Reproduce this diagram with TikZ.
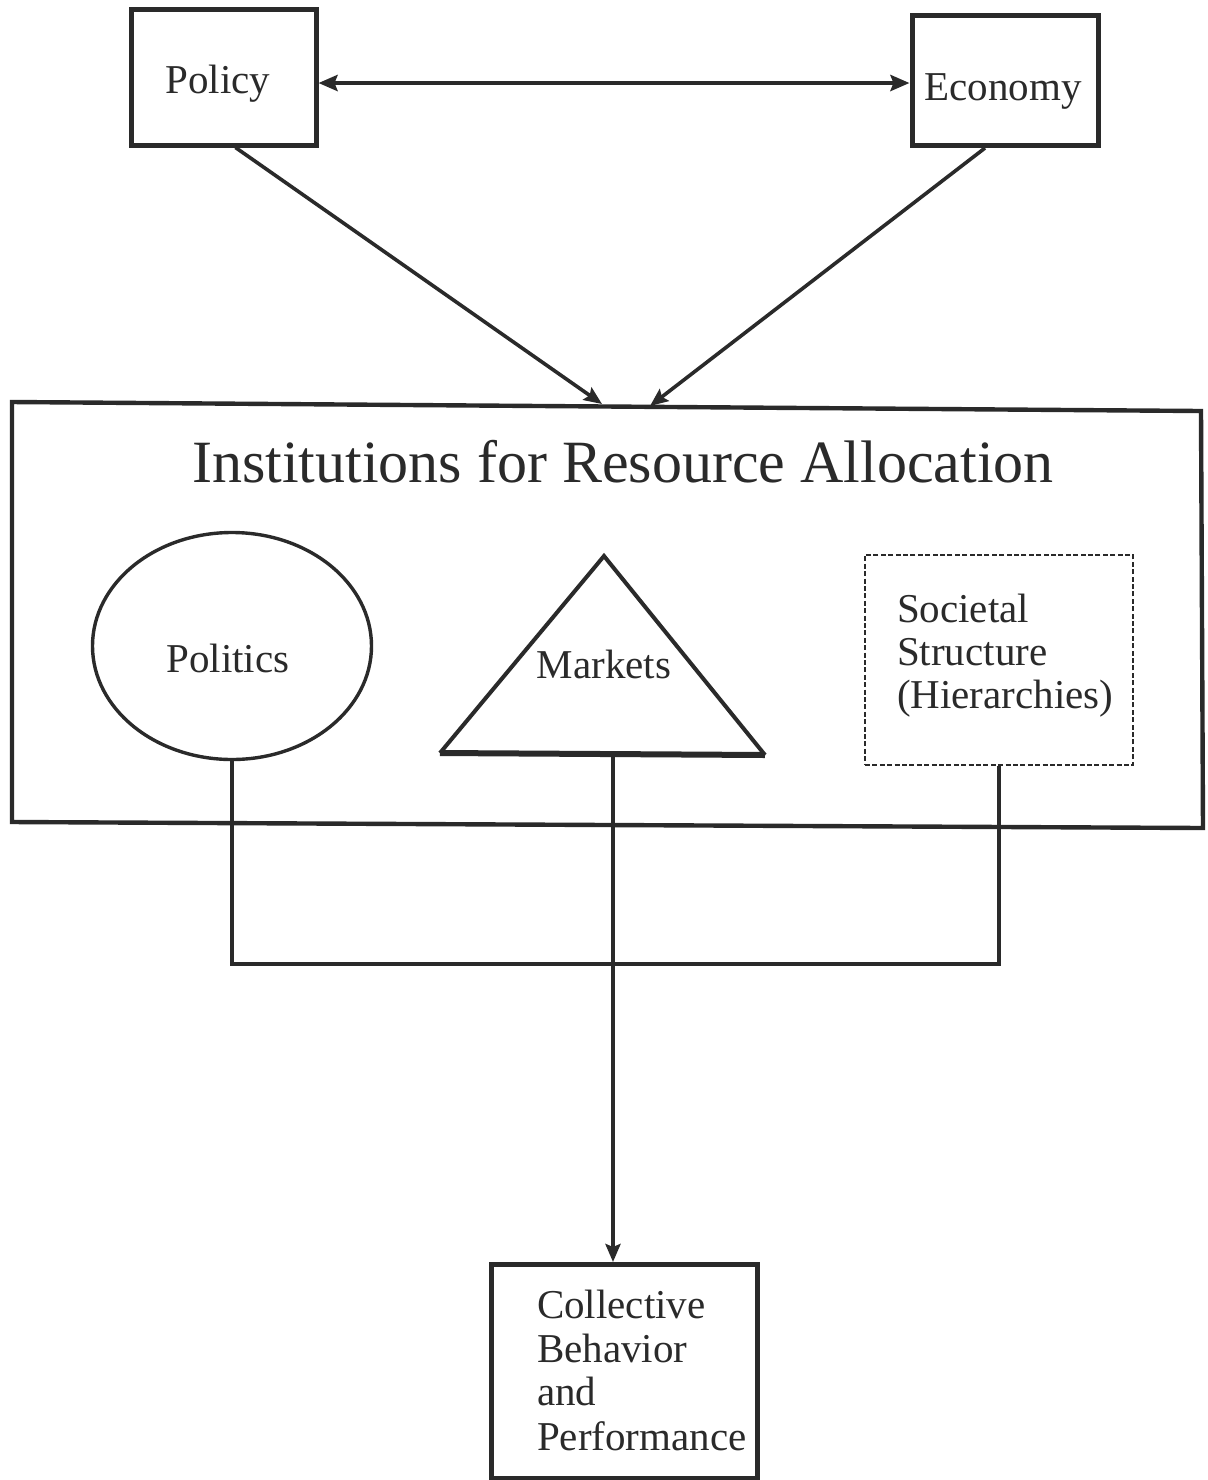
\documentclass[tikz,border=0pt]{standalone}
\usepackage{fontspec}
\setmainfont{Liberation Serif}
\usetikzlibrary{arrows.meta,shapes.geometric,calc}
\definecolor{ink}{HTML}{2A2A2A}
\begin{document}
\begin{tikzpicture}[x=0.5pt,y=-0.5pt,
  every node/.style={text=ink},
  box/.style={draw=ink,line width=2.5pt,inner sep=0pt},
  conn/.style={draw=ink,line width=1.8pt},
  arrowtip/.style={-{Stealth[length=9pt,width=7.5pt,inset=1.5pt]}},
  lbl/.style={font=\fontsize{20.5}{22}\selectfont},
  title/.style={font=\fontsize{30}{32}\selectfont}]
\useasboundingbox (0,0) rectangle (1207,1480);
\fill[white] (0,0) rectangle (1207,1480);

% top boxes
\node[box,minimum width=92.5pt,minimum height=68pt] (policy) at (223.5,77) {};
\node[lbl,anchor=base] at (218,93) {Policy};
\node[box,minimum width=93pt,minimum height=65pt] (economy) at (1005,80.5) {};
\node[lbl,anchor=base] at (1003,100) {Economy};

% two-way link between policy and economy
\coordinate (pe) at (0,83);
\draw[conn,line width=2pt,{Stealth[length=9.5pt,width=8pt,inset=1.5pt]}-{Stealth[length=9.5pt,width=8pt,inset=1.5pt]}]
  (policy.east |- pe) -- (economy.west |- pe);

% institutions frame
\coordinate (ia) at (12,402);
\coordinate (ib) at (1201,411);
\coordinate (ic) at (1203,828);
\coordinate (id) at (12,822);
\draw[ink,line width=2.2pt,line join=miter] (ia) -- (ib) -- (ic) -- (id) -- cycle;
\node[title,anchor=base] (inst) at (623,482) {Institutions\ for\ Resource\ Allocation};

% arrows into the frame
\coordinate (inL) at (602,404);
\coordinate (inR) at (650,406);
\draw[conn,arrowtip] ($(policy.south)+(12,0)$) -- (inL);
\draw[conn,arrowtip] ($(economy.south)+(-20,0)$) -- (inR);

% politics
\node[draw=ink,line width=1.7pt,ellipse,minimum width=139.5pt,minimum height=113.5pt,inner sep=0pt] (politics) at (232,646) {};
\node[lbl,anchor=base] at (228,672) {Politics};

% markets
\coordinate (mtop) at (604,556);
\coordinate (mleft) at (440,753);
\coordinate (mright) at (765,755);
\draw[ink,line width=2pt,line join=miter] (mleft) -- (mtop) -- (mright);
\draw[ink,line width=3pt] (mleft) -- (mright);
\node[lbl,anchor=base] (markets) at (604,678) {Markets};
\coordinate (mbase) at (613,755);

% societal structure
\node[draw=ink,line width=1.1pt,dash pattern=on 2.5pt off 1.2pt,minimum width=134pt,minimum height=105pt,inner sep=0pt] (societal) at (999,660) {};
\node[lbl,anchor=base west] at (890,622) {Societal};
\node[lbl,anchor=base west] at (890,665) {Structure};
\node[lbl,anchor=base west] at (890,708) {(Hierarchies)};

% outcome box
\node[box,minimum width=133pt,minimum height=107pt] (collective) at (624,1371.5) {};
\node[lbl,anchor=base west] at (530,1318) {Collective};
\node[lbl,anchor=base west] at (530,1362) {Behavior};
\node[lbl,anchor=base west] at (530,1405) {and};
\node[lbl,anchor=base west] at (530,1450) {Performance};

% joining lines
\coordinate (brk) at (0,964);
\draw[conn,line width=2pt,line join=miter] (politics.south) |- (societal.south |- brk) -- (societal.south);
\draw[conn,line width=2pt,arrowtip] (mbase) -- (mbase |- collective.north);
\end{tikzpicture}
\end{document}
